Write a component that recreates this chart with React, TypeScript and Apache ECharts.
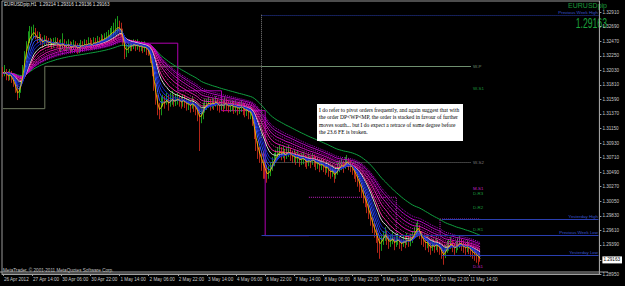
import { useEffect, useRef } from "react";
import * as echarts from "echarts";

// ---- axis data ----
const xLabels = [
  "26 Apr 2012", "27 Apr 14:00", "30 Apr 06:00", "30 Apr 22:00", "1 May 14:00", "2 May 06:00",
  "2 May 22:00", "3 May 14:00", "4 May 06:00", "6 May 22:00", "7 May 14:00", "8 May 06:00",
  "8 May 22:00", "9 May 14:00", "10 May 06:00", "10 May 22:00", "11 May 14:00",
];
const LABEL_STEP = 16;
const SLOT_COUNT = 328;
const yTickValues = [
  1.2895, 1.29163, 1.2939, 1.2961, 1.2983, 1.3005, 1.3027, 1.3049, 1.3071, 1.3093, 1.3115,
  1.3137, 1.3159, 1.3181, 1.3203, 1.3225, 1.3247, 1.3269, 1.3291,
];
const currentPrice = 1.29163;

// ---- hourly candles (H1) ----
const firstOpen = 1.3202;
const closes = [
  1.3199,1.3202,1.3196,1.3193,1.3197,1.3190,1.3184,1.3175,1.3164,1.3172,1.3187,1.3202,1.3225,1.3240,1.3250,1.3256,
  1.3259,1.3262,1.3255,1.3250,1.3253,1.3247,1.3244,1.3250,1.3247,1.3243,1.3246,1.3241,1.3244,1.3247,1.3243,1.3240,
  1.3241,1.3244,1.3238,1.3240,1.3243,1.3237,1.3238,1.3241,1.3240,1.3235,1.3238,1.3241,1.3240,1.3243,1.3241,1.3244,
  1.3243,1.3241,1.3246,1.3244,1.3247,1.3246,1.3250,1.3249,1.3252,1.3253,1.3256,1.3258,1.3261,1.3262,1.3266,1.3269,
  1.3267,1.3262,1.3247,1.3229,1.3232,1.3238,1.3241,1.3240,1.3243,1.3240,1.3241,1.3238,1.3240,1.3237,1.3238,1.3235,
  1.3232,1.3220,1.3202,1.3179,1.3160,1.3145,1.3139,1.3149,1.3157,1.3154,1.3160,1.3151,1.3157,1.3161,1.3155,1.3158,
  1.3160,1.3157,1.3154,1.3158,1.3155,1.3151,1.3152,1.3148,1.3154,1.3149,1.3145,1.3139,1.3129,1.3134,1.3145,1.3151,
  1.3152,1.3155,1.3151,1.3154,1.3152,1.3157,1.3151,1.3148,1.3152,1.3149,1.3154,1.3151,1.3148,1.3149,1.3151,1.3146,
  1.3148,1.3145,1.3146,1.3149,1.3145,1.3142,1.3143,1.3139,1.3140,1.3129,1.3111,1.3093,1.3081,1.3073,1.3066,1.3058,
  1.3051,1.3043,1.3048,1.3054,1.3063,1.3069,1.3073,1.3078,1.3081,1.3077,1.3080,1.3073,1.3078,1.3081,1.3075,1.3072,
  1.3073,1.3069,1.3072,1.3066,1.3069,1.3070,1.3066,1.3063,1.3067,1.3064,1.3069,1.3066,1.3061,1.3063,1.3058,1.3061,
  1.3058,1.3054,1.3057,1.3051,1.3048,1.3051,1.3043,1.3048,1.3054,1.3058,1.3061,1.3057,1.3063,1.3066,1.3061,1.3058,
  1.3054,1.3048,1.3043,1.3036,1.3028,1.3021,1.3011,1.3005,1.2998,1.2987,1.2978,1.2968,1.2960,1.2953,1.2945,1.2937,
  1.2945,1.2951,1.2957,1.2948,1.2942,1.2945,1.2950,1.2940,1.2945,1.2948,1.2942,1.2939,1.2945,1.2943,1.2948,1.2945,
  1.2946,1.2951,1.2957,1.2963,1.2966,1.2957,1.2948,1.2945,1.2940,1.2943,1.2937,1.2933,1.2939,1.2936,1.2940,1.2937,
  1.2933,1.2927,1.2921,1.2930,1.2936,1.2939,1.2942,1.2937,1.2933,1.2936,1.2940,1.2943,1.2939,1.2936,1.2933,1.2937,
  1.2934,1.2930,1.2927,1.2925,1.2923,1.29214,1.29163,
];
const highs = [
  1.3208,1.3211,1.3205,1.3202,1.3205,1.3202,1.3199,1.3193,1.3181,1.3178,1.3196,1.3211,1.3232,1.3247,1.3262,1.3270,
  1.3269,1.3272,1.3267,1.3262,1.3261,1.3258,1.3253,1.3256,1.3255,1.3252,1.3252,1.3250,1.3252,1.3253,1.3252,1.3249,
  1.3250,1.3259,1.3250,1.3247,1.3250,1.3247,1.3246,1.3249,1.3247,1.3244,1.3244,1.3249,1.3247,1.3250,1.3249,1.3253,
  1.3252,1.3249,1.3253,1.3252,1.3255,1.3253,1.3258,1.3256,1.3259,1.3261,1.3264,1.3267,1.3270,1.3275,1.3281,1.3285,
  1.3278,1.3275,1.3266,1.3250,1.3241,1.3247,1.3249,1.3249,1.3250,1.3249,1.3250,1.3247,1.3247,1.3246,1.3247,1.3244,
  1.3241,1.3238,1.3225,1.3208,1.3184,1.3166,1.3154,1.3163,1.3166,1.3164,1.3169,1.3166,1.3169,1.3172,1.3166,1.3167,
  1.3169,1.3166,1.3163,1.3167,1.3166,1.3161,1.3160,1.3158,1.3163,1.3160,1.3155,1.3151,1.3145,1.3145,1.3154,1.3160,
  1.3160,1.3163,1.3160,1.3161,1.3160,1.3164,1.3160,1.3157,1.3160,1.3158,1.3163,1.3160,1.3157,1.3157,1.3158,1.3155,
  1.3157,1.3154,1.3155,1.3158,1.3154,1.3151,1.3152,1.3148,1.3149,1.3145,1.3132,1.3114,1.3096,1.3087,1.3081,1.3081,
  1.3066,1.3060,1.3058,1.3063,1.3072,1.3078,1.3083,1.3087,1.3090,1.3087,1.3089,1.3084,1.3087,1.3090,1.3086,1.3081,
  1.3083,1.3080,1.3081,1.3077,1.3078,1.3080,1.3075,1.3073,1.3077,1.3073,1.3078,1.3075,1.3072,1.3072,1.3069,1.3070,
  1.3069,1.3064,1.3066,1.3061,1.3058,1.3060,1.3054,1.3057,1.3063,1.3067,1.3070,1.3066,1.3072,1.3075,1.3070,1.3067,
  1.3063,1.3058,1.3054,1.3048,1.3040,1.3033,1.3025,1.3018,1.3010,1.3001,1.2992,1.2981,1.2972,1.2965,1.2957,1.2950,
  1.2954,1.2960,1.2966,1.2960,1.2953,1.2954,1.2959,1.2951,1.2954,1.2957,1.2951,1.2948,1.2954,1.2953,1.2957,1.2954,
  1.2956,1.2960,1.2966,1.2972,1.2975,1.2969,1.2960,1.2954,1.2950,1.2953,1.2946,1.2943,1.2948,1.2945,1.2950,1.2946,
  1.2943,1.2937,1.2931,1.2939,1.2945,1.2948,1.2951,1.2946,1.2942,1.2945,1.2950,1.2953,1.2948,1.2945,1.2942,1.2946,
  1.2943,1.2939,1.2936,1.2933,1.2930,1.2927,1.29316,
];
const lows = [
  1.3193,1.3194,1.3188,1.3187,1.3188,1.3184,1.3178,1.3169,1.3158,1.3161,1.3169,1.3184,1.3199,1.3220,1.3232,1.3244,
  1.3247,1.3253,1.3250,1.3244,1.3246,1.3241,1.3237,1.3240,1.3241,1.3237,1.3238,1.3235,1.3237,1.3240,1.3237,1.3232,
  1.3232,1.3235,1.3232,1.3232,1.3235,1.3229,1.3231,1.3234,1.3232,1.3228,1.3229,1.3232,1.3232,1.3235,1.3234,1.3237,
  1.3235,1.3234,1.3237,1.3237,1.3238,1.3238,1.3241,1.3241,1.3244,1.3246,1.3247,1.3250,1.3253,1.3255,1.3256,1.3259,
  1.3258,1.3253,1.3240,1.3220,1.3223,1.3229,1.3232,1.3232,1.3235,1.3232,1.3234,1.3231,1.3232,1.3229,1.3231,1.3226,
  1.3225,1.3214,1.3194,1.3172,1.3151,1.3135,1.3129,1.3135,1.3148,1.3145,1.3151,1.3142,1.3148,1.3151,1.3148,1.3149,
  1.3151,1.3148,1.3145,1.3148,1.3146,1.3142,1.3143,1.3139,1.3145,1.3140,1.3135,1.3126,1.3081,1.3123,1.3129,1.3139,
  1.3143,1.3146,1.3142,1.3145,1.3143,1.3148,1.3142,1.3139,1.3143,1.3140,1.3145,1.3142,1.3139,1.3140,1.3142,1.3137,
  1.3139,1.3135,1.3137,1.3140,1.3135,1.3132,1.3134,1.3129,1.3129,1.3119,1.3099,1.3081,1.3069,1.3063,1.3051,1.3039,
  1.3039,1.3033,1.3039,1.3043,1.3051,1.3058,1.3064,1.3069,1.3072,1.3067,1.3070,1.3064,1.3069,1.3072,1.3066,1.3063,
  1.3064,1.3060,1.3063,1.3057,1.3060,1.3061,1.3057,1.3054,1.3058,1.3055,1.3060,1.3057,1.3052,1.3054,1.3049,1.3052,
  1.3049,1.3045,1.3048,1.3042,1.3039,1.3042,1.3033,1.3039,1.3045,1.3049,1.3052,1.3048,1.3054,1.3057,1.3052,1.3049,
  1.3045,1.3039,1.3034,1.3027,1.3019,1.3011,1.3002,1.2996,1.2987,1.2978,1.2968,1.2957,1.2950,1.2942,1.2927,1.2918,
  1.2930,1.2939,1.2945,1.2939,1.2933,1.2936,1.2940,1.2931,1.2936,1.2939,1.2933,1.2930,1.2936,1.2934,1.2939,1.2936,
  1.2937,1.2942,1.2948,1.2954,1.2957,1.2948,1.2939,1.2936,1.2931,1.2934,1.2928,1.2924,1.2930,1.2927,1.2931,1.2928,
  1.2924,1.2918,1.2909,1.2919,1.2927,1.2930,1.2933,1.2928,1.2924,1.2927,1.2931,1.2934,1.2930,1.2927,1.2924,1.2928,
  1.2925,1.2921,1.2918,1.2915,1.2912,1.2909,1.29136,
];

// ---- moving-average ribbons (periods) ----
const bluePeriods = [4, 6, 8, 10];
const whitePeriod = 13;
const pinkPeriods = [16, 20, 24, 28, 32, 36, 40, 44];
const greenPeriod = 60;

// ---- support / resistance levels ----
const levelNames = ["Previous Week High", "Yesterday High", "Previous Week Low", "Yesterday Low"];
const levelValues = [1.3287, 1.2978, 1.2954, 1.2924];
const levelFrom = [142, 241, 142, 241];

const pivotNames = ["W-P", "W-S1", "W-S2", "M-S1", "D-R3", "D-R2", "D-R1", "D-S1"];
const pivotValues = [1.3209, 1.3175, 1.3064, 1.3025, 1.3016, 1.2996, 1.2963, 1.2906];
const pivotColors = ["#6f8f6f", "#1c9c3c", "#7a7a7a", "#c020c0", "#1c9c3c", "#1c9c3c", "#1c9c3c", "#c020c0"];
const pivotFrom = [142, 142, 142, 142, 142, 142, 142, 142];
const pivotTo = 257;
const pivotLineShown = [true, false, true, false, false, false, false, false];

// weekly pivot steps: [fromBar, toBar, price]
const weekPivotSteps = [
  [0, 23, 1.3145],
  [23, 142, 1.3209],
];
// daily steps (magenta): [fromBar, toBar, price]
const magentaSolidSteps = [
  [72, 96, 1.3244],
  [96, 120, 1.3172],
  [120, 144, 1.3142],
  [144, 168, 1.2953],
];
const magentaDottedSteps = [
  [168, 216, 1.3011],
  [216, 240, 1.2953],
  [240, 262, 1.2978],
];

const note = [
  "I do refer to pivot orders frequently, and again suggest that with",
  "the order DP<WP<MP, the order is stacked in favour of further",
  "moves south... but I do expect a retrace of some degree before",
  "the 23.6 FE is broken.",
];

function ema(values: number[], period: number): number[] {
  const a = 2 / (period + 1);
  let e = values[0];
  return values.map((v, i) => {
    e = i === 0 ? v : e + a * (v - e);
    return e;
  });
}

export default function App() {
  const ref = useRef<HTMLDivElement>(null);
  useEffect(() => {
    if (!ref.current) return;
    const chart = echarts.init(ref.current, null, { renderer: "svg" });
    const categories = Array.from({ length: SLOT_COUNT }, (_, i) =>
      i % LABEL_STEP === 0 && i / LABEL_STEP < xLabels.length ? xLabels[i / LABEL_STEP] : ""
    );
    const candles = closes.map((c, i) => [i === 0 ? firstOpen : closes[i - 1], c, lows[i], highs[i]]);
    const lineSeries = (vals: any[], color: string, width = 1, z = 3, type: any = "solid") => ({
      type: "line",
      data: vals,
      showSymbol: false,
      silent: true,
      z,
      lineStyle: { color, width, type },
    });
    const blueCols = ["#3a5cff", "#2a44f0", "#1e32d8", "#1626c0"];
    const pinkCols = ["#ff2aa8", "#f520b0", "#ea18b8", "#e010c0", "#d40cc6", "#c808c8", "#bc06c8", "#b004c8"];

    const markData: any[] = [];
    levelNames.forEach((n, i) => {
      markData.push([
        {
          coord: [levelFrom[i], levelValues[i]],
          lineStyle: { color: "#2a3fb0", width: 1, type: i === 0 ? "dotted" : "solid" },
          label: { show: true, position: "insideEndTop", formatter: n, color: "#3a55d0", fontSize: 4.4, distance: 0.5 },
        },
        { coord: [SLOT_COUNT - 1, levelValues[i]] },
      ]);
    });
    pivotNames.forEach((n, i) => {
      markData.push([
        {
          coord: [pivotFrom[i], pivotValues[i]],
          lineStyle: { color: pivotColors[i], width: pivotLineShown[i] ? 1 : 0, type: i === 2 ? "dotted" : "solid" },
          label: { show: true, position: "end", formatter: n, color: pivotColors[i], fontSize: 4.4, distance: 2 },
        },
        { coord: [pivotTo, pivotValues[i]] },
      ]);
    });
    markData.push([
      { coord: [142, 1.3287], lineStyle: { color: "#808080", width: 1, type: "dotted" }, label: { show: false } },
      { coord: [142, 1.31] },
    ]);

    const stepData = (steps: number[][]) => {
      const out: any[] = [];
      steps.forEach((s) => {
        out.push([s[0], s[2]]);
        out.push([s[1], s[2]]);
      });
      return out;
    };

    const option: any = {
      animation: false,
      backgroundColor: "#000000",
      grid: { left: 2, right: 17, top: 1, bottom: 12, show: true, borderColor: "#9a9a9a", borderWidth: 1 },
      xAxis: {
        type: "category",
        data: categories,
        boundaryGap: true,
        axisLine: { show: true, lineStyle: { color: "#a0a0a0" } },
        axisTick: {
          show: true,
          alignWithLabel: true,
          length: 2,
          lineStyle: { color: "#a0a0a0" },
          interval: (i: number, v: string) => v !== "",
        },
        axisLabel: {
          interval: (i: number, v: string) => v !== "",
          color: "#c8c8c8",
          fontSize: 4.6,
          fontFamily: "Liberation Sans",
          align: "left",
          margin: 3,
          padding: [0, 0, 0, 1],
        },
        splitLine: { show: false },
      },
      yAxis: {
        type: "value",
        position: "right",
        min: 1.2895,
        max: 1.33078,
        scale: true,
        axisLine: { show: true, lineStyle: { color: "#a0a0a0" } },
        axisTick: { show: true, length: 2, customValues: yTickValues, lineStyle: { color: "#a0a0a0" } },
        axisLabel: {
          customValues: yTickValues,
          color: "#c8c8c8",
          fontSize: 4.6,
          fontFamily: "Liberation Sans",
          margin: 3,
          formatter: (v: number) =>
            Math.abs(v - currentPrice) < 1e-7 ? "{cur|" + v.toFixed(5) + "}" : v.toFixed(5),
          rich: {
            cur: { backgroundColor: "#ffffff", color: "#000000", fontSize: 4.6, padding: [1, 2, 1, 1] },
          },
        },
        splitLine: { show: false },
      },
      series: [
        {
          type: "candlestick",
          data: candles,
          barWidth: 1.1,
          z: 2,
          itemStyle: {
            color: "#22c022",
            color0: "#e03020",
            borderColor: "#22c022",
            borderColor0: "#e03020",
            borderWidth: 0.8,
          },
          markLine: { symbol: ["none", "none"], silent: true, animation: false, data: markData },
        },
        lineSeries(stepData(weekPivotSteps), "#6f7a5f", 1, 1),
        lineSeries(stepData(magentaSolidSteps), "#b000b0", 1, 1),
        lineSeries(stepData(magentaDottedSteps), "#c020c0", 1, 1, "dotted"),
        lineSeries(ema(closes, greenPeriod), "#10a040", 1, 3),
        ...pinkPeriods.map((p, i) => lineSeries(ema(closes, p), pinkCols[i], 1, 3, i % 2 ? "dotted" : "solid")),
        lineSeries(ema(closes, whitePeriod), "#d8d8d8", 1, 4),
        ...bluePeriods.map((p, i) => lineSeries(ema(closes, p), blueCols[i], 1, 4)),
        lineSeries(ema(closes, 2), "#ffd000", 0.8, 5),
      ],
      graphic: [
        {
          type: "text",
          left: 4,
          top: 2,
          style: {
            text: "EURUSDpip,H1  1.29214 1.29316 1.29136 1.29163",
            fill: "#e0e0e0",
            fontSize: 4.6,
            fontFamily: "Liberation Sans",
          },
        },
        {
          type: "text",
          x: 607,
          y: 2,
          style: { text: "EURUSDpip", fill: "#1c9a3a", fontSize: 7, fontFamily: "Liberation Sans", align: "right" },
        },
        {
          type: "text",
          x: 607,
          y: 16,
          scaleX: 0.62,
          style: { text: "1.29163", fill: "#1ca03c", fontSize: 14, fontFamily: "Liberation Sans", align: "right" },
        },
        {
          type: "text",
          x: 3,
          y: 268,
          style: {
            text: "MetaTrader, \u00a9 2001-2011 MetaQuotes Software Corp.",
            fill: "#c8c8c8",
            fontSize: 4.6,
            fontFamily: "Liberation Sans",
          },
        },
        {
          type: "line",
          shape: { x1: 0, y1: 272, x2: 608, y2: 272 },
          style: { stroke: "#a0a0a0", lineWidth: 1 },
        },
        {
          type: "rect",
          shape: { x: 317, y: 104, width: 146, height: 37 },
          style: { fill: "#ffffff" },
          z: 100,
        },
        {
          type: "text",
          x: 319,
          y: 106,
          scaleX: 0.875,
          z: 101,
          style: {
            text: note.join("\n"),
            fill: "#000000",
            fontSize: 6.3,
            lineHeight: 7.4,
            fontFamily: "Liberation Serif",
          },
        },
      ],
    };
    chart.setOption(option);
    return () => chart.dispose();
  }, []);
  return (
    <div
      ref={ref}
      style={{ position: "fixed", left: 0, top: 0, width: 625, height: 286, background: "#000" }}
    />
  );
}
